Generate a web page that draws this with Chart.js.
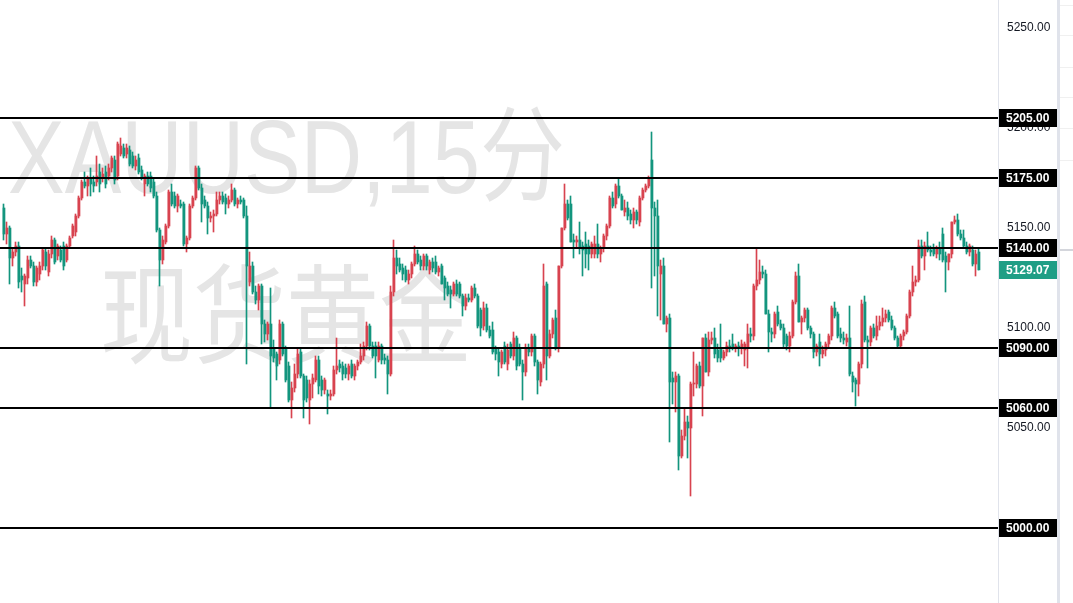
<!DOCTYPE html>
<html>
<head>
<meta charset="utf-8">
<title>XAUUSD 15分</title>
<script src="https://cdn.jsdelivr.net/npm/chart.js@4.4.1/dist/chart.umd.min.js"></script>
<style>
  html, body { margin: 0; padding: 0; background: #fff; }
  #wrap { width: 1073px; height: 603px; position: relative; }
</style>
</head>
<body>
<div id="wrap"><canvas id="chart"></canvas></div>
<script>
// 15 分钟 K 线 (读图估算)
const opens = [
  5160,5147,5150,5135,5138,5141,5126,5122,5125,5134, 5131,5123,5127,5131,5138,5128,5137,5144,5136,5139,
  5141,5134,5141,5146,5148,5156,5165,5173,5171,5175, 5173,5173,5178,5175,5178,5176,5180,5184,5176,5187,
  5190,5187,5189,5186,5181,5185,5179,5172,5176,5176, 5173,5166,5149,5134,5143,5151,5168,5166,5161,5162,
  5162,5142,5145,5161,5165,5180,
  5170,5164,5161,5155,5156,5157,5164,5166,5165,5162, 5164,5169,5162,5164,5164,5156,5123,5131,5118,5114,
  5121,5102,5097,5102,5090,5087,5084,5102,5090,5081, 5064,5070,5077,5088,5076,5074,5064,5072,5074,5084,
  5074,5069,5067,5066,5067,5079,5082,5081,5080,5077, 5082,5076,5081,5083,5086,5091,5101,5091,5091,5084,
  5091,5085,5084,5077,
  5118,5135,5132,5130,5129,5124,5127,5132,5137,5134, 5131,5136,5129,5133,5133,5128,5131,5125,5121,5119,
  5117,5122,5122,5116,5111,5115,5114,5120,5116,5109, 5101,5110,5099,5099,5090,5088,5082,5091,5082,5092,
  5086,5095,5090,5082,5078,5090,5088,5096,5083,5073, 5082,5122,5086,5097,5105,5090,5131,5150,5162,5162,
  5144,5143,5144,5141,
  5142,5141,5137,5137,5142,5137,5140,5146,5151,5165, 5162,5171,5166,5158,5160,5157,5154,5158,5153,5165,
  5169,5171,5184,5160,5156,5127,5131,5102,5105,5075, 5073,5076,5036,5046,5053,5050,5072,5072,5081,5071,
  5095,5078,5094,5095,5089,5090,5085,5088,5091,5092, 5090,5091,5090,5089,5090,5097,5096,5121,5124,5128,
  5127,5107,5098,5097,5108,5102,
  5100,5096,5091,5096,5113,5126,5103,5105,5109,5100, 5097,5088,5093,5087,5089,5092,5096,5110,5107,5097,
  5095,5093,5095,5076,5074,5072,5082,5113,5094,5093, 5100,5096,5101,5103,5105,5108,5104,5100,5095,5091,
  5096,5098,5106,5118,5123,5124,5141,5136,5141,5139, 5140,5137,5140,5147,5136,5133,5137,5153,5154,5147,
  5145,5141,5138,5139,5132,5138
];
const highs = [
  5162,5153,5151,5140,5143,5143,5130,5127,5136,5136, 5133,5131,5133,5140,5140,5139,5146,5145,5142,5141,
  5143,5142,5146,5152,5157,5166,5174,5178,5176,5180, 5176,5186,5182,5180,5181,5182,5186,5186,5193,5195,
  5192,5192,5191,5188,5186,5187,5181,5177,5178,5178, 5175,5168,5150,5146,5152,5169,5172,5168,5167,5164,
  5163,5146,5162,5166,5181,5181,
  5172,5166,5163,5158,5159,5168,5168,5168,5167,5166, 5172,5170,5165,5166,5165,5161,5138,5133,5121,5122,
  5122,5104,5103,5120,5094,5088,5104,5103,5091,5083, 5073,5082,5090,5090,5077,5076,5074,5077,5086,5086,
  5076,5075,5069,5069,5081,5095,5084,5083,5082,5082, 5084,5082,5084,5092,5093,5103,5102,5093,5093,5093,
  5092,5087,5086,5121,
  5144,5139,5135,5132,5131,5129,5133,5141,5139,5136, 5137,5137,5134,5135,5136,5131,5132,5126,5123,5121,
  5123,5124,5123,5117,5117,5117,5121,5122,5117,5110, 5113,5112,5101,5103,5091,5090,5089,5093,5092,5093,
  5098,5096,5092,5084,5092,5092,5097,5097,5084,5083, 5132,5123,5099,5105,5109,5131,5150,5172,5164,5166,
  5147,5146,5153,5143,
  5148,5144,5143,5146,5152,5141,5147,5152,5166,5168, 5172,5175,5167,5164,5163,5159,5160,5159,5166,5170,
  5172,5176,5198,5163,5164,5134,5135,5106,5107,5078, 5078,5077,5049,5060,5056,5073,5088,5082,5083,5095,
  5097,5098,5098,5100,5092,5102,5089,5093,5094,5097, 5092,5093,5094,5093,5102,5100,5122,5140,5134,5131,
  5129,5109,5100,5108,5111,5104,
  5102,5097,5098,5114,5128,5132,5106,5110,5110,5101, 5098,5092,5097,5091,5093,5097,5111,5113,5108,5100,
  5098,5097,5111,5078,5075,5083,5114,5116,5096,5101, 5102,5106,5106,5110,5109,5109,5106,5101,5096,5097,
  5099,5107,5119,5131,5126,5144,5144,5143,5148,5141, 5142,5141,5143,5150,5138,5137,5153,5156,5157,5149,
  5149,5143,5142,5141,5139,5140
];
const lows = [
  5144,5142,5122,5131,5136,5120,5118,5111,5122,5130, 5121,5121,5124,5129,5129,5126,5135,5132,5134,5133,
  5129,5133,5140,5145,5146,5155,5164,5170,5166,5166, 5168,5171,5168,5173,5170,5174,5178,5172,5174,5186,
  5185,5185,5181,5180,5179,5177,5174,5166,5171,5168, 5165,5148,5121,5132,5142,5150,5161,5160,5158,5160,
  5141,5138,5144,5160,5164,5169,
  5153,5160,5147,5153,5148,5156,5162,5162,5157,5160, 5163,5161,5160,5162,5155,5082,5121,5117,5112,5109,
  5092,5093,5094,5060,5083,5074,5082,5086,5073,5063, 5055,5068,5075,5075,5055,5063,5052,5065,5073,5067,
  5066,5067,5057,5064,5066,5077,5078,5074,5075,5074, 5075,5074,5079,5082,5084,5089,5089,5085,5075,5083,
  5082,5082,5067,5076,
  5116,5127,5128,5124,5123,5122,5125,5131,5132,5129, 5129,5129,5127,5128,5127,5126,5122,5114,5116,5110,
  5116,5116,5115,5106,5109,5113,5113,5115,5100,5096, 5099,5098,5095,5087,5084,5076,5080,5082,5079,5085,
  5084,5079,5081,5064,5076,5086,5086,5081,5067,5071, 5080,5074,5085,5095,5089,5088,5130,5149,5154,5143,
  5135,5140,5137,5126,
  5130,5129,5135,5135,5135,5133,5138,5144,5150,5160, 5160,5165,5159,5156,5154,5152,5150,5152,5151,5164,
  5168,5170,5120,5126,5106,5104,5102,5098,5043,5062, 5058,5029,5035,5044,5035,5016,5066,5070,5070,5056,
  5078,5076,5092,5085,5083,5083,5084,5086,5088,5089, 5088,5086,5087,5081,5080,5093,5094,5119,5122,5125,
  5107,5088,5093,5095,5101,5099,
  5090,5089,5088,5095,5112,5103,5097,5103,5099,5095, 5085,5086,5081,5085,5086,5090,5094,5105,5095,5093,
  5092,5091,5076,5068,5061,5066,5080,5093,5080,5091, 5095,5094,5099,5101,5103,5103,5099,5094,5090,5090,
  5094,5097,5105,5116,5121,5123,5135,5129,5138,5136, 5136,5135,5134,5133,5118,5129,5135,5152,5146,5144,
  5140,5137,5136,5131,5126,5129
];
const closes = [
  5147,5150,5135,5138,5141,5123,5124,5126,5134,5131, 5123,5130,5131,5139,5131,5137,5144,5133,5141,5134,
  5131,5141,5145,5151,5156,5165,5173,5171,5175,5172, 5171,5176,5172,5177,5172,5180,5185,5174,5192,5191,
  5186,5190,5182,5181,5184,5178,5175,5176,5172,5170, 5166,5149,5134,5144,5151,5168,5162,5161,5166,5161,
  5142,5145,5161,5165,5180,5170,
  5162,5161,5155,5156,5157,5164,5166,5163,5162,5164, 5169,5162,5164,5163,5156,5131,5131,5118,5114,5121,
  5102,5097,5102,5086,5085,5081,5102,5087,5074,5064, 5070,5077,5087,5076,5064,5065,5072,5075,5084,5071,
  5069,5074,5066,5067,5079,5081,5080,5077,5077,5081, 5076,5081,5083,5086,5091,5101,5091,5086,5086,5091,
  5084,5084,5077,5118,
  5135,5131,5129,5127,5124,5127,5132,5137,5133,5131, 5136,5131,5133,5130,5128,5130,5122,5120,5117,5117,
  5122,5117,5116,5111,5115,5114,5120,5116,5101,5100, 5110,5099,5096,5088,5087,5083,5088,5083,5089,5086,
  5095,5081,5082,5078,5090,5088,5096,5083,5074,5082, 5121,5086,5097,5104,5090,5131,5150,5162,5155,5143,
  5143,5144,5140,5139,
  5137,5137,5142,5142,5137,5140,5146,5151,5165,5161, 5171,5166,5159,5160,5156,5154,5158,5154,5165,5169,
  5171,5175,5160,5156,5131,5131,5102,5105,5073,5073, 5076,5036,5046,5053,5050,5072,5072,5081,5071,5095,
  5078,5094,5095,5087,5085,5085,5088,5091,5090,5090, 5091,5090,5092,5092,5097,5096,5121,5124,5128,5127,
  5107,5098,5097,5107,5102,5100,
  5092,5091,5096,5113,5126,5103,5105,5109,5100,5097, 5088,5091,5087,5089,5092,5096,5110,5106,5096,5095,
  5094,5095,5077,5073,5072,5082,5112,5094,5093,5100, 5096,5101,5103,5105,5107,5104,5100,5095,5091,5096,
  5098,5106,5118,5123,5124,5141,5136,5141,5139,5138, 5137,5140,5137,5134,5133,5137,5153,5154,5147,5145,
  5141,5138,5141,5132,5137,5129.07
];

// 价格轴刻度与水平位
const tickValues = [5000, 5050, 5100, 5150, 5200, 5250];
const levels = [5205, 5175, 5140, 5090, 5060, 5000];
const symbolText = 'XAUUSD,15分';
const nameText = '现货黄金';

const UP = '#d8434f';     // 涨 = 红
const DOWN = '#13957e';   // 跌 = 绿
const LAST_BG = '#1f9e85';
const EMPTY_SLOTS = 6;
const SLOTS = opens.length + EMPTY_SLOTS;

const labels = [];
for (let i = 0; i < SLOTS; i++) labels.push(i < opens.length ? String(i + 1) : '');
const candleColors = closes.map((c, i) => c >= opens[i] ? UP : DOWN);

const FONT = '"Liberation Sans", Arial, sans-serif';

// 背景水印
const watermark = {
  id: 'watermark',
  beforeDatasetsDraw(chart) {
    const ctx = chart.ctx;
    ctx.save();
    ctx.fillStyle = '#e5e5e5';
    ctx.textBaseline = 'alphabetic';
    ctx.textAlign = 'left';

    ctx.font = '104px "Liberation Sans", "Noto Sans CJK SC", sans-serif';
    let w = ctx.measureText(symbolText).width;
    ctx.save();
    ctx.translate(8, 193);
    ctx.scale(557 / w, 1);
    ctx.fillText(symbolText, 0, 0);
    ctx.restore();

    ctx.font = '108px "Noto Sans CJK SC", sans-serif';
    w = ctx.measureText(nameText).width;
    ctx.save();
    ctx.translate(100, 355);
    ctx.scale(372 / w, 1);
    ctx.fillText(nameText, 0, 0);
    ctx.restore();
    ctx.restore();
  }
};

// 水平位 + 价格标签
const levelLines = {
  id: 'levelLines',
  afterDatasetsDraw(chart) {
    const ctx = chart.ctx;
    const y = chart.scales.y;
    const right = Math.round(chart.chartArea.right);
    ctx.save();
    ctx.font = 'bold 12px ' + FONT;
    ctx.textBaseline = 'middle';
    ctx.textAlign = 'left';
    levels.forEach(v => {
      const py = Math.round(y.getPixelForValue(v));
      ctx.fillStyle = '#000';
      ctx.fillRect(0, py - 1, right, 2);
      ctx.fillRect(right + 1, py - 9, 58, 18);
      ctx.fillStyle = '#fff';
      ctx.fillText(v.toFixed(2), right + 8, py + 0.5);
    });
    const last = closes[closes.length - 1];
    const ly = Math.round(y.getPixelForValue(last));
    ctx.fillStyle = LAST_BG;
    ctx.fillRect(right + 1, ly - 9, 58, 18);
    ctx.fillStyle = '#fff';
    ctx.fillText(last.toFixed(2), right + 8, ly + 0.5);

    // 右侧面板分隔条
    ctx.fillStyle = '#e0e3eb';
    ctx.fillRect(1057, 0, 3, chart.height);
    ctx.fillStyle = '#f0f0f0';
    [5, 35, 67, 97, 128, 160].forEach(t => ctx.fillRect(1060, t, 13, 1));
    ctx.fillStyle = '#d4d6dc';
    ctx.fillRect(1060, 249, 13, 2);
    ctx.restore();
  }
};

new Chart(document.getElementById('chart'), {
  type: 'bar',
  data: {
    labels: labels,
    datasets: [
      {
        label: 'body',
        xAxisID: 'xb',
        data: opens.map((o, i) => ({ x: i, y: [o, closes[i]] })),
        backgroundColor: candleColors,
        barThickness: 2,
        maxBarThickness: 2,
        minBarLength: 1,
        borderWidth: 0,
        grouped: false
      },
      {
        label: 'wick',
        xAxisID: 'x',
        data: lows.map((l, i) => [l, highs[i]]),
        backgroundColor: candleColors,
        barThickness: 1,
        maxBarThickness: 1,
        borderWidth: 0,
        grouped: false
      }
    ]
  },
  options: {
    responsive: true,
    maintainAspectRatio: false,
    animation: false,
    devicePixelRatio: 1,
    layout: { autoPadding: false, padding: { left: 2, right: 0, top: 0, bottom: 0 } },
    plugins: { legend: { display: false }, tooltip: { enabled: false } },
    scales: {
      x: { type: 'category', display: false, offset: true },
      // 实体用同一刻度间距, 右移半像素使 2px 实体对齐像素
      xb: { type: 'linear', display: false, offset: false, min: -2 / 3, max: SLOTS - 2 / 3 },
      y: {
        type: 'linear',
        position: 'right',
        min: 4962.5,
        max: 5264,
        grid: { display: false, drawTicks: false },
        border: { display: true, color: '#e0e3eb', width: 1 },
        ticks: {
          color: '#131722',
          padding: 9,
          font: { size: 12, family: FONT },
          callback: v => Number(v).toFixed(2)
        },
        afterBuildTicks: s => { s.ticks = tickValues.map(v => ({ value: v })); },
        afterFit: s => {
          s.width = 75;
          s.paddingTop = 0;
          s.paddingBottom = 0;
        }
      }
    }
  },
  plugins: [watermark, levelLines]
});
</script>
</body>
</html>
